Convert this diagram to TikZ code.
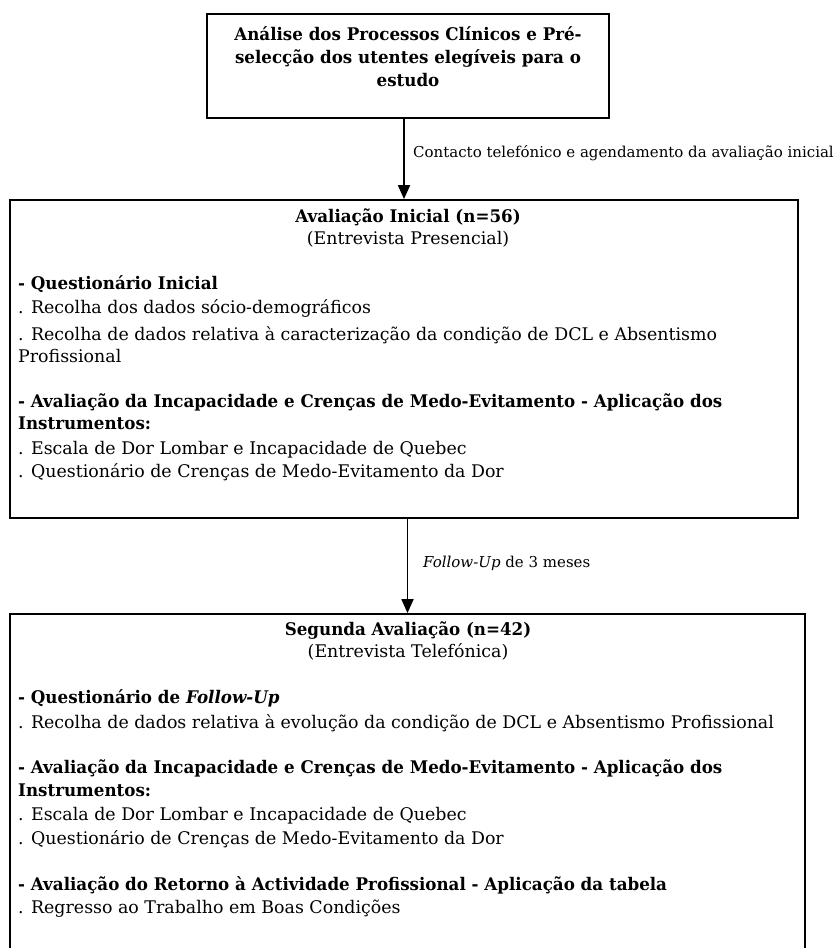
\documentclass[tikz,border=0pt]{standalone}
\usepackage{fontspec}
\setmainfont{DejaVu Serif}[BoldFeatures={FakeStretch=0.96},BoldItalicFeatures={FakeStretch=0.96}]
\usetikzlibrary{arrows.meta}
\newcommand\mainsz{\fontsize{17.4}{20}\selectfont}
\newcommand\labsz{\fontsize{15}{17}\selectfont}
\begin{document}
\begin{tikzpicture}[x=1pt,y=-1pt,
  boxnode/.style={draw=black,line width=1.8pt,inner sep=0pt,rectangle},
  ln/.style={anchor=base west,inner sep=0pt,font=\mainsz},
  bln/.style={anchor=base west,inner sep=0pt,font=\mainsz\bfseries},
  ttl/.style={anchor=base,inner sep=0pt,font=\mainsz\bfseries},
  sub/.style={anchor=base,inner sep=0pt,font=\mainsz},
  lab/.style={anchor=base west,inner sep=0pt,font=\labsz},
  conn/.style={line width=1.8pt,-{Triangle[length=14pt,width=12pt]}}]
\useasboundingbox (0,0) rectangle (835,948);
% boxes
\node[boxnode,minimum width=402pt,minimum height=104pt] (b1) at (408,66) {};
\node[boxnode,minimum width=788pt,minimum height=318pt] (b2) at (404,359) {};
\node[boxnode,minimum width=795pt,minimum height=341pt] (b3) at (407.5,784.5) {};
% box 1 text
\node[ttl] (t1a) at (408,40.5) {Análise dos Processos Clínicos e Pré-};
\node[ttl] (t1b) at (408,63.5) {selecção dos utentes elegíveis para o};
\node[ttl] (t1c) at (408,86.5) {estudo};
% box 2 text
\node[ttl] (t2a) at (408,222.5) {Avaliação Inicial (n=56)};
\node[sub] (t2b) at (408,244.5) {(Entrevista Presencial)};
\node[bln] (t2c) at (18,289.5) {- Questionário Inicial};
\node[ln] (t2d) at (18,313.5) {. Recolha dos dados sócio-demográficos};
\node[ln] (t2e) at (18,340.5) {. Recolha de dados relativa à caracterização da condição de DCL e Absentismo};
\node[ln] (t2f) at (18,362.5) {Profissional};
\node[bln] (t2g) at (18,407.5) {- Avaliação da Incapacidade e Crenças de Medo-Evitamento - Aplicação dos};
\node[bln] (t2h) at (18,429.5) {Instrumentos:};
\node[ln] (t2i) at (18,454.5) {. Escala de Dor Lombar e Incapacidade de Quebec};
\node[ln] (t2j) at (18,477.5) {. Questionário de Crenças de Medo-Evitamento da Dor};
% box 3 text
\node[ttl] (t3a) at (408,635.5) {Segunda Avaliação (n=42)};
\node[sub] (t3b) at (408,657.5) {(Entrevista Telefónica)};
\node[bln] (t3c) at (18,703.5) {- Questionário de \textit{Follow-Up}};
\node[ln] (t3d) at (18,728.5) {. Recolha de dados relativa à evolução da condição de DCL e Absentismo Profissional};
\node[bln] (t3e) at (18,773.5) {- Avaliação da Incapacidade e Crenças de Medo-Evitamento - Aplicação dos};
\node[bln] (t3f) at (18,796.5) {Instrumentos:};
\node[ln] (t3g) at (18,820.5) {. Escala de Dor Lombar e Incapacidade de Quebec};
\node[ln] (t3h) at (18,844.5) {. Questionário de Crenças de Medo-Evitamento da Dor};
\node[bln] (t3i) at (18,890.5) {- Avaliação do Retorno à Actividade Profissional - Aplicação da tabela};
\node[ln] (t3j) at (18,913.5) {. Regresso ao Trabalho em Boas Condições};
% connectors
\draw[conn] (b2.north |- b1.south) -- (b2.north);
\draw[conn] (b3.north |- b2.south) -- (b3.north);
\node[lab] (l1) at (413,157.5) {Contacto telefónico e agendamento da avaliação inicial};
\node[lab] (l2) at (423,567.5) {\textit{Follow-Up} de 3 meses};
\end{tikzpicture}
\end{document}
